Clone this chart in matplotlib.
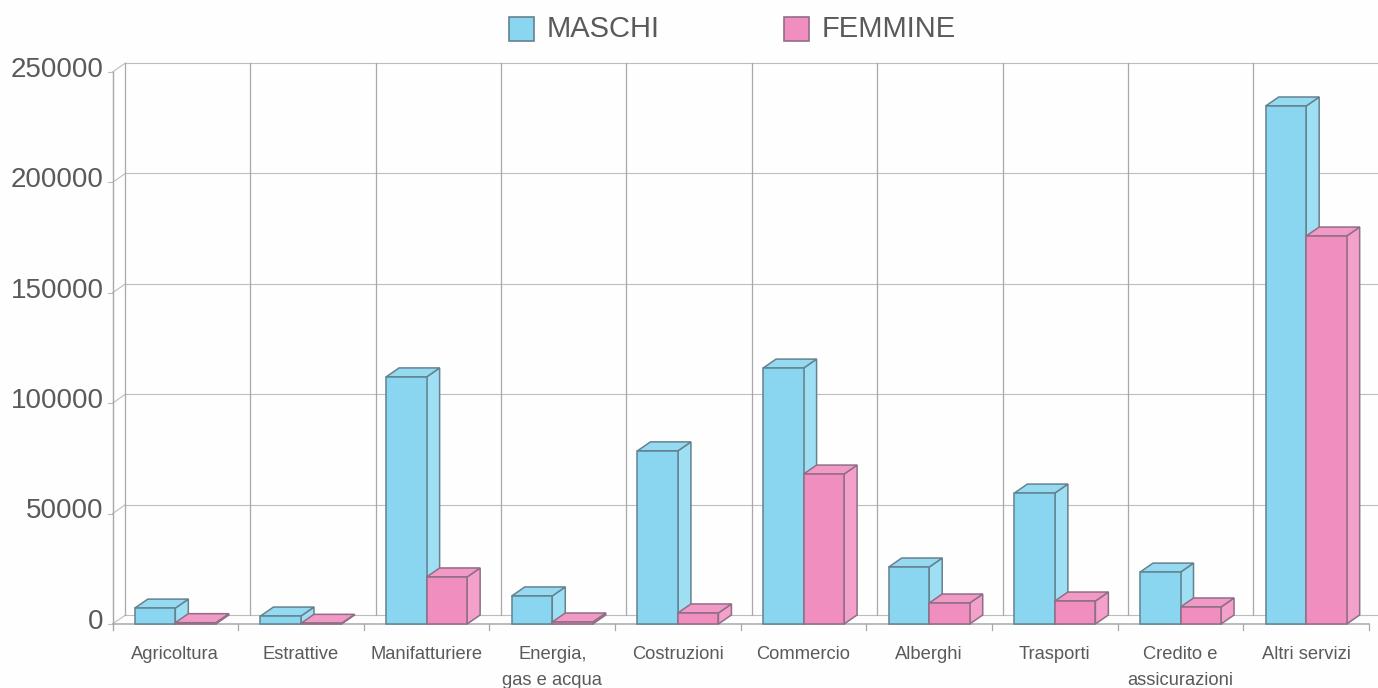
import matplotlib
matplotlib.use("Agg")
import matplotlib.pyplot as plt
from matplotlib.patches import Polygon, Rectangle

plt.rcParams['font.family'] = ['Liberation Sans', 'DejaVu Sans']

categories = ["Agricoltura", "Estrattive", "Manifatturiere", "Energia,\ngas e acqua",
              "Costruzioni", "Commercio", "Alberghi", "Trasporti",
              "Credito e\nassicurazioni", "Altri servizi"]
maschi = [7200, 3600, 111900, 12700, 78400, 115900, 25800, 59300, 23500, 234600]
femmine = [600, 300, 21300, 900, 5000, 67900, 9500, 10400, 7700, 175700]
yticks = [0, 50000, 100000, 150000, 200000, 250000]

W, H = 1378, 688
fig = plt.figure(figsize=(W / 100, H / 100), dpi=100, facecolor="#fefefe")
L, R, B, T = 112.5, 1369, 624, 72
ax = fig.add_axes([L / W, 1 - B / H, (R - L) / W, (B - T) / H])
ax.set_xlim(0, len(categories))
ax.set_ylim(0, 250000)
ax.axis("off")

STEP = (R - L) / len(categories)
DX = 13 / STEP
DY = 9 * 250000 / (B - T)
BW = 40.5 / STEP
GRID = "#bdbdbd"
VGRID = "#a8a8a8"
TXT = "#5a5a5a"
kw = dict(clip_on=False)

# back wall + floor
for v in yticks:
    ax.plot([DX, 10 + 9 / STEP], [v + DY, v + DY], color=GRID, lw=0.8, zorder=1, **kw)
    ax.plot([0, DX], [v, v + DY], color=GRID, lw=0.8, zorder=1, **kw)
    ax.plot([-5 / STEP, 0], [v, v], color=GRID, lw=0.8, zorder=1, **kw)
for i in range(len(categories)):
    ax.plot([i - 0.002 * i + DX * 0.95, i - 0.002 * i + DX * 0.95], [DY, 250000 + DY], color=VGRID, lw=0.9, zorder=1, **kw)
ax.plot([0, 0], [-2600, 250000], color=VGRID, lw=1.0, zorder=1, **kw)
ax.plot([0, 10], [0, 0], color=VGRID, lw=1.1, zorder=1, **kw)
for i in range(1, len(categories) + 1):
    ax.plot([i, i], [0, -2600], color=VGRID, lw=0.9, zorder=1, **kw)


def bar3d(x, v, front, side, top, edge, z):
    ax.bar(x, v, width=BW, bottom=0, align="edge", facecolor=front, edgecolor=edge,
           lw=1.1, zorder=z + 0.2, **kw)
    ax.add_patch(Polygon([(x + BW, 0), (x + BW + DX, DY), (x + BW + DX, v + DY), (x + BW, v)],
                         facecolor=side, edgecolor=edge, lw=1.1, zorder=z, **kw))
    ax.add_patch(Polygon([(x, v), (x + DX, v + DY), (x + BW + DX, v + DY), (x + BW, v)],
                         facecolor=top, edgecolor=edge, lw=1.1, zorder=z + 0.1, **kw))


BLUE = ("#8AD6F1", "#9FDFF4", "#96DAF2", "#64828F")
PINK = ("#F08EC0", "#F3A0CA", "#F29AC6", "#8F6E86")
for i in range(len(categories)):
    x0 = i + 0.5 - BW
    bar3d(x0, maschi[i], *BLUE, 2 + i)
    bar3d(x0 + BW, femmine[i], *PINK, 2.5 + i)

# tick labels
for v in yticks:
    ax.text(-9 / STEP, v + DY * 0.25, str(v), ha="right", va="center", fontsize=20, color=TXT, **kw)
for i, c in enumerate(categories):
    ax.text(i + 0.5, -9800, c, ha="center", va="top", fontsize=13.2, color=TXT,
            linespacing=1.75, **kw)


# legend
def legend_item(px, fc, ec, label, tx):
    fig.add_artist(Rectangle((px / W, 1 - 41 / H), 25 / W, 24 / H, transform=fig.transFigure,
                             facecolor=fc, edgecolor=ec, lw=1.2))
    fig.text(tx / W, 1 - 29 / H, label, ha="left", va="center", fontsize=21, color=TXT)


legend_item(509, BLUE[0], BLUE[3], "MASCHI", 547)
legend_item(784, PINK[0], PINK[3], "FEMMINE", 822)

fig.savefig("out.png", dpi=100, facecolor=fig.get_facecolor())
